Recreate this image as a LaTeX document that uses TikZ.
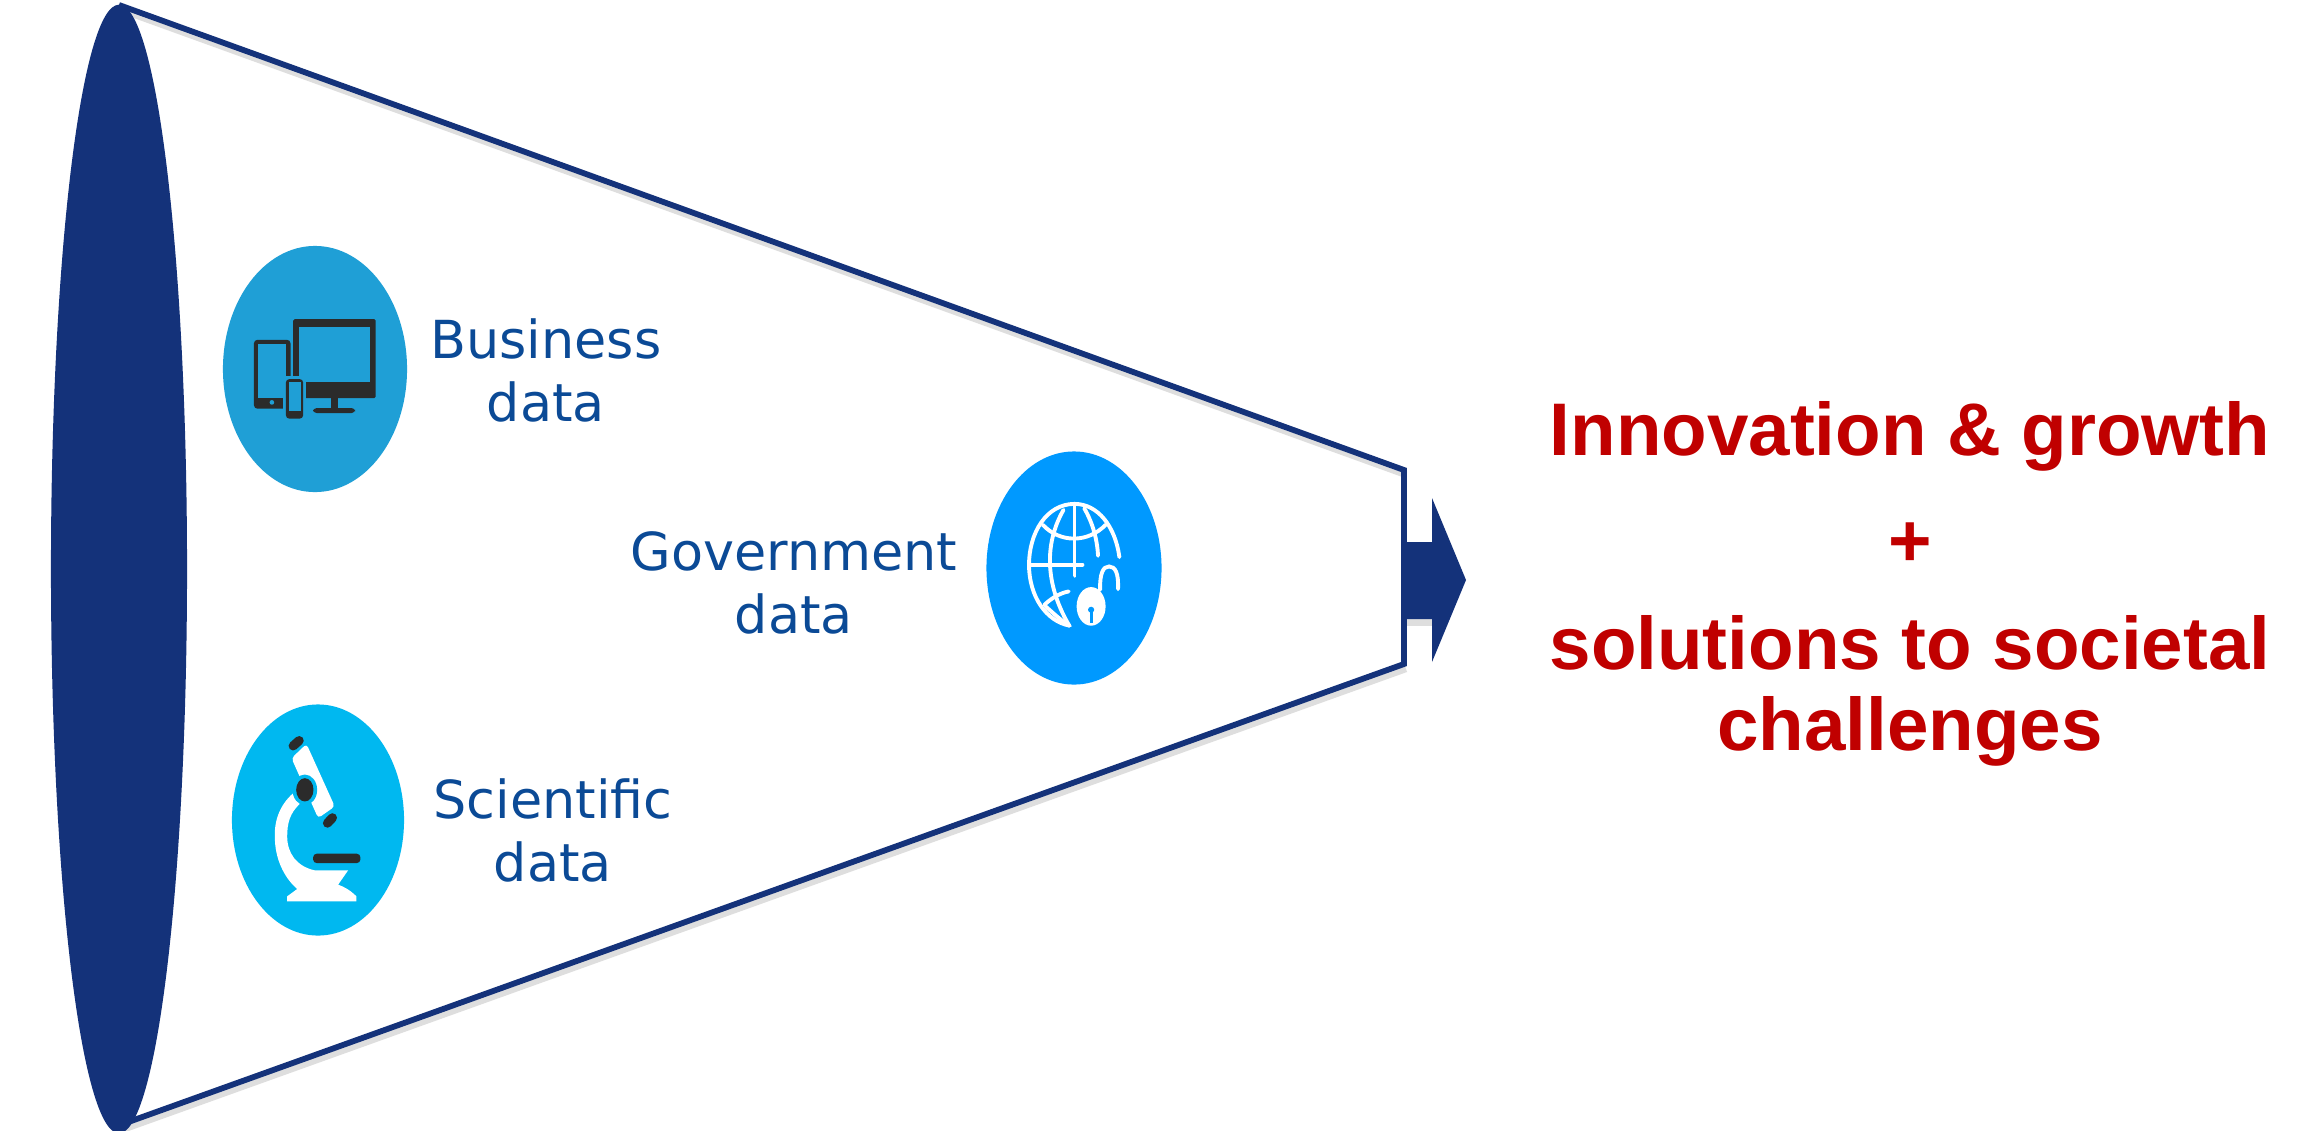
\documentclass[tikz,border=0pt]{standalone}
\usepackage{fontspec}
\setmainfont{DejaVu Sans}
\newfontfamily\redfont{Liberation Sans}
\usetikzlibrary{shapes.geometric}
\definecolor{navy}{HTML}{14327A}
\definecolor{labelblue}{HTML}{0B4A96}
\definecolor{redtxt}{HTML}{C00000}
\definecolor{bizblue}{HTML}{1F9FD6}
\definecolor{govblue}{HTML}{0099FF}
\definecolor{sciblue}{HTML}{00B8F0}
\definecolor{darkicon}{HTML}{2B2B2B}
\tikzset{
  blob/.style={shape=ellipse,inner sep=0pt,outer sep=0pt,draw=none},
  funnelline/.style={draw=navy,line width=1.65pt,line join=miter},
  shadowline/.style={draw=black!13,line width=1.8pt},
  datalabel/.style={text=labelblue,font=\fontsize{14.9}{17.9}\selectfont,align=center,inner sep=0pt},
  outcome/.style={text=redtxt,font=\redfont\bfseries\fontsize{21.2}{23}\selectfont,align=center,inner sep=0pt},
  globeline/.style={draw=white,line width=1.1pt,line cap=round},
  zoomA/.style={x=0.003333cm,y=-0.003333cm},
  zoomB/.style={x=0.003448cm,y=-0.003333cm}
}
\begin{document}
\begin{tikzpicture}[x=0.01cm,y=-0.01cm]
\useasboundingbox (0,0) rectangle (2300,1130);
\fill[white] (0,0) rectangle (2300,1130);

% named corners of the funnel
\coordinate (topL) at (119,5);
\coordinate (topR) at (1404,470);
\coordinate (botR) at (1404,664);
\coordinate (botL) at (120,1125);

% soft shadow
\draw[shadowline] ([shift={(2,5)}]topL) -- ([shift={(2,5)}]topR);
\draw[shadowline] ([shift={(2,5)}]botR) -- ([shift={(2,5)}]botL);
\fill[black!13] (1406,545) rectangle (1434,626);

% funnel mouth and body
\node[blob,fill=navy,minimum width=1.36cm,minimum height=11.28cm] (mouth) at (119,569) {};
\draw[funnelline] (topL) -- (topR) -- (botR) -- (botL);

% output arrow
\fill[navy] (1404,542) -- (1432,542) -- (1432,498) -- (1466,580) -- (1432,662) -- (1432,619) -- (1404,619) -- cycle;

% business
\node[blob,fill=bizblue,minimum width=1.84cm,minimum height=2.46cm] (biz) at (315,369) {};
\begin{scope}[shift={(200,220)},zoomA]
  \fill[darkicon,rounded corners=0.4pt] (280,298) rectangle (528,535);
  \fill[bizblue] (296,322) rectangle (512,488);
  \fill[darkicon] (395,535) rectangle (415,567);
  \fill[darkicon,rounded corners=1pt] (340,565) rectangle (466,580);
  \fill[bizblue] (270,345) rectangle (280,600);
  \fill[darkicon,rounded corners=1pt] (162,360) rectangle (272,567);
  \fill[bizblue] (174,372) rectangle (258,535);
  \fill[bizblue] (216,548) circle (7);
  \fill[bizblue] (250,468) rectangle (318,606);
  \fill[darkicon,rounded corners=1pt] (258,478) rectangle (310,597);
  \fill[bizblue] (266,486) rectangle (303,575);
\end{scope}
\node[datalabel] (bizlabel) at (546,370) {Business\\data};

% government
\node[blob,fill=govblue,minimum width=1.75cm,minimum height=2.33cm] (gov) at (1074,568) {};
\begin{scope}[shift={(960,430)},zoomB]
  \draw[globeline] (462,382) .. controls (450,290) and (400,222) .. (332,222) .. controls (250,222) and (200,310) .. (200,405) .. controls (200,500) and (250,575) .. (318,588);
  \draw[globeline] (300,240) .. controls (250,330) and (240,450) .. (315,585);
  \draw[globeline] (360,235) .. controls (385,280) and (398,330) .. (400,378);
  \draw[globeline] (332,222) -- (332,438);
  \draw[globeline] (240,285) .. controls (290,340) and (370,340) .. (422,285);
  \draw[globeline] (205,405) -- (355,405);
  \draw[globeline] (245,525) .. controls (265,505) and (290,490) .. (315,485);
  \draw[globeline] (248,530) .. controls (270,550) and (295,575) .. (318,588);
  \draw[globeline] (406,480) .. controls (405,430) and (415,410) .. (432,410) .. controls (450,410) and (460,430) .. (458,478);
  \fill[white] (380,530) ellipse [x radius=42,y radius=58];
  \fill[govblue] (380,540) circle (9);
  \fill[govblue] (376,540) rectangle (384,580);
\end{scope}
\node[datalabel] (govlabel) at (794,583) {Government\\data};

% scientific
\node[blob,fill=sciblue,minimum width=1.72cm,minimum height=2.31cm] (sci) at (318,820) {};
\begin{scope}[shift={(200,680)},zoomA]
  \fill[white] (280,340) .. controls (235,380) and (222,430) .. (225,480) .. controls (228,550) and (260,600) .. (292,628) -- (262,650) -- (262,665) -- (470,665) -- (470,650) .. controls (450,630) and (430,620) .. (415,615) -- (445,572) -- (345,572) .. controls (290,560) and (262,520) .. (262,470) .. controls (262,430) and (270,400) .. (300,372) -- cycle;
  \fill[white,rounded corners=1pt] (275,235) -- (320,192) -- (405,380) -- (355,415) -- cycle;
  \draw[darkicon,line width=2.6pt,line cap=round] (280,198) -- (298,182);
  \draw[darkicon,line width=2.6pt,line cap=round] (383,430) -- (398,414);
  \fill[sciblue] (315,330) ellipse [x radius=37,y radius=46];
  \fill[darkicon] (315,330) ellipse [x radius=26,y radius=35];
  \fill[darkicon,rounded corners=1pt] (340,522) rectangle (482,550);
\end{scope}
\node[datalabel] (scilabel) at (553,830) {Scientific\\data};

% outcome
\node[outcome,anchor=base] (innov) at (1910,455) {Innovation \& growth};
\node[outcome] (plus) at (1910,545) {+};
\node[outcome] (solve) at (1910,690.5) {solutions to societal\\challenges};
\end{tikzpicture}
\end{document}
